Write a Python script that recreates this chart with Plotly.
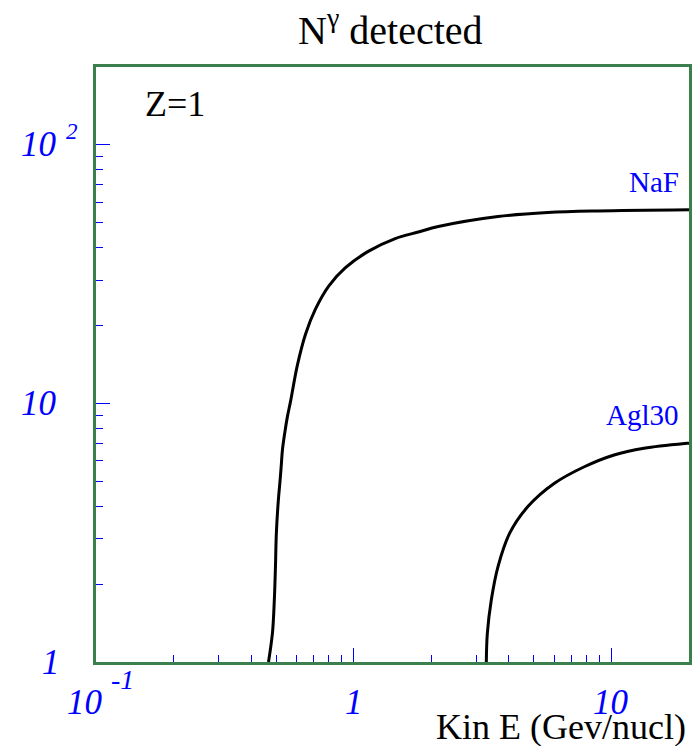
import math
import plotly.graph_objects as go

# Kinetic energy per nucleon (GeV/nucl) and detected photon counts per radiator
naf_energy = [0.467, 0.484, 0.492, 0.497, 0.501, 0.510, 0.517, 0.523, 0.529,
              0.540, 0.553, 0.570, 0.604, 0.651, 0.711, 0.801, 0.929, 1.143,
              1.449, 1.782, 2.129, 3.63, 5.66, 8.83, 20.0]
naf_photons = [1.0, 1.30, 1.74, 2.34, 3.15, 4.23, 4.93, 5.69, 6.61,
               7.69, 8.89, 10.3, 14.0, 18.6, 23.2, 28.5, 33.5, 38.8,
               43.4, 46.0, 48.3, 52.8, 54.7, 55.5, 56.1]

agl_energy = [3.27, 3.30, 3.42, 3.63, 4.03, 4.74, 6.01, 7.85, 10.24, 13.38, 19.65, 20.0]
agl_photons = [1.0, 1.29, 1.74, 2.34, 3.15, 3.99, 4.91, 5.69, 6.32, 6.71, 7.01, 7.02]

x_tick_vals = [0.1, 1, 10]
x_tick_mant = ["10", "1", "10"]
x_tick_exp = ["-1", "", ""]
x_minor_vals = [0.2, 0.3, 0.4, 0.5, 0.6, 0.7, 0.8, 0.9, 2, 3, 4, 5, 6, 7, 8, 9]
y_tick_vals = [1, 10, 100]
y_tick_mant = ["1", "10", "10"]
y_tick_exp = ["", "", "2"]
y_minor_vals = [2, 3, 4, 5, 6, 7, 8, 9, 20, 30, 40, 50, 60, 70, 80, 90]

SERIF = "Liberation Serif"
FRAME = "#3b7f4e"
BLUE = "#0000ff"
L, R, T, B = 96, 692, 67, 662
PW, PH = R - L, B - T


def px_x(p):
    return (p - L) / PW


def px_y(p):
    return (B - p) / PH


fig = go.Figure()
for xs, ys in [(naf_energy, naf_photons), (agl_energy, agl_photons)]:
    fig.add_trace(go.Scatter(
        x=xs, y=ys, mode="lines",
        line=dict(color="black", width=3, shape="spline", smoothing=1.0),
        showlegend=False, hoverinfo="skip",
    ))

fig.update_layout(
    width=698, height=746,
    margin=dict(l=L, r=698 - R, t=T, b=746 - B),
    paper_bgcolor="white", plot_bgcolor="white",
    showlegend=False,
)

fig.update_xaxes(
    type="log", range=[-1, 1.30103],
    showgrid=False, zeroline=False,
    showline=True, linecolor=FRAME, linewidth=2.5, mirror=True,
    ticks="inside", ticklen=14, tickwidth=1, tickcolor=BLUE,
    tickvals=x_tick_vals, showticklabels=False,
    minor=dict(ticks="inside", ticklen=7, tickwidth=1, tickcolor=BLUE,
               tickvals=x_minor_vals, showgrid=False),
)

fig.update_yaxes(
    type="log", range=[0, 2.30103],
    showgrid=False, zeroline=False,
    showline=True, linecolor=FRAME, linewidth=2.5, mirror=True,
    ticks="inside", ticklen=14, tickwidth=1, tickcolor=BLUE,
    tickvals=y_tick_vals, showticklabels=False,
    minor=dict(ticks="inside", ticklen=7, tickwidth=1, tickcolor=BLUE,
               tickvals=y_minor_vals, showgrid=False),
)

tick_font = dict(family=SERIF, size=35, color=BLUE, style="italic")

# X tick labels (mantissa centred under the tick, exponent raised to its right)
for val, mant, exp in zip(x_tick_vals, x_tick_mant, x_tick_exp):
    xpos = math.log10(val)
    xshift = -11 if exp else 0
    fig.add_annotation(
        x=xpos, xref="x", xanchor="center", xshift=xshift,
        y=px_y(702), yref="paper", yanchor="middle",
        text=mant, showarrow=False, font=tick_font,
    )
    if exp:
        fig.add_annotation(
            x=xpos, xref="x", xanchor="left", xshift=13,
            y=px_y(680), yref="paper", yanchor="middle",
            text=exp, showarrow=False,
            font=dict(family=SERIF, size=28, color=BLUE, style="italic"),
        )

# Y tick labels, placed against the y axis values
y_label_left = [40, 19, 19]
for val, mant, exp, left in zip(y_tick_vals, y_tick_mant, y_tick_exp, y_label_left):
    ypos = math.log10(val)
    fig.add_annotation(
        x=px_x(left), xref="paper", xanchor="left",
        y=ypos, yref="y", yanchor="middle",
        text=mant, showarrow=False, font=tick_font,
    )
    if exp:
        fig.add_annotation(
            x=px_x(64), xref="paper", xanchor="left",
            y=ypos, yref="y", yanchor="middle", yshift=13,
            text=exp, showarrow=False,
            font=dict(family=SERIF, size=23, color=BLUE, style="italic"),
        )

# Title
fig.add_annotation(
    x=0.497, xref="paper", xanchor="center",
    y=px_y(27), yref="paper", yanchor="middle",
    text="N<sup>γ</sup> detected", showarrow=False,
    font=dict(family=SERIF, size=40, color="black"),
)

# Axis title
fig.add_annotation(
    x=1, xref="paper", xanchor="right", xshift=-1,
    y=px_y(727), yref="paper", yanchor="middle",
    text="Kin E (Gev/nucl)", showarrow=False,
    font=dict(family=SERIF, size=36, color="black"),
)

# Charge label
fig.add_annotation(
    x=px_x(143), xref="paper", xanchor="left",
    y=px_y(104), yref="paper", yanchor="middle",
    text="Z=1", showarrow=False,
    font=dict(family=SERIF, size=36, color="black"),
)

# Radiator labels
for name, ypix in [("NaF", 182), ("Agl30", 415)]:
    fig.add_annotation(
        x=px_x(684), xref="paper", xanchor="right",
        y=px_y(ypix), yref="paper", yanchor="middle",
        text=name, showarrow=False,
        font=dict(family=SERIF, size=29, color=BLUE),
    )

fig.write_html("out.html")
